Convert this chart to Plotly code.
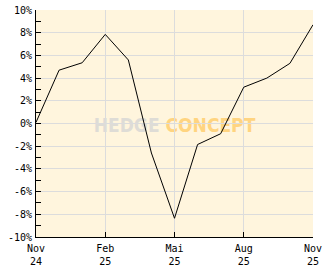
import plotly.graph_objects as go

months = ["Nov 24", "Dec 24", "Jan 25", "Feb 25", "Mar 25", "Apr 25", "Mai 25",
          "Jun 25", "Jul 25", "Aug 25", "Sep 25", "Oct 25", "Nov 25"]
values = [0.1, 4.7, 5.35, 7.85, 5.6, -2.6, -8.35, -1.85, -0.9, 3.2, 4.0, 5.3, 8.7]

x_tickvals = [0, 3, 6, 9, 12]
x_ticktext = ["Nov<br>24", "Feb<br>25", "Mai<br>25", "Aug<br>25", "Nov<br>25"]
y_tickvals = [-10, -8, -6, -4, -2, 0, 2, 4, 6, 8, 10]
y_ticktext = ["-10%", "-8%", "-6%", "-4%", "-2%", "0%", "2%", "4%", "6%", "8%", "10%"]

xs = list(range(len(months)))

fig = go.Figure()
fig.add_trace(go.Scatter(x=xs, y=values, mode="lines",
                         line=dict(color="black", width=1),
                         hoverinfo="skip", showlegend=False))

tick_font = dict(family="DejaVu Sans Mono, monospace", size=10, color="black")

fig.update_layout(
    width=332, height=269,
    margin=dict(l=36, r=19, t=10, b=32, autoexpand=False),
    paper_bgcolor="white",
    plot_bgcolor="#FFF5DD",
    showlegend=False,
    xaxis=dict(range=[0, 12], tickmode="array", tickvals=x_tickvals, ticktext=x_ticktext,
               ticks="inside", ticklen=5, tickcolor="black", tickwidth=1,
               showline=True, linecolor="black", linewidth=1,
               showgrid=True, gridcolor="#DCDCDC", gridwidth=1, zeroline=False,
               tickfont=tick_font, ticklabelstandoff=2, automargin=False, fixedrange=True),
    yaxis=dict(range=[-10, 10], tickmode="array", tickvals=y_tickvals, ticktext=y_ticktext,
               ticks="inside", ticklen=5, tickcolor="black", tickwidth=1,
               minor=dict(tickmode="linear", tick0=0, dtick=1, ticks="inside", ticklen=5,
                          tickcolor="black", showgrid=False),
               showline=True, linecolor="black", linewidth=1,
               showgrid=True, gridcolor="#DCDCDC", gridwidth=1, zeroline=False,
               tickfont=tick_font, ticklabelstandoff=1, automargin=False, fixedrange=True),
    shapes=[dict(type="rect", xref="paper", yref="paper", x0=0.1, x1=0.9, y0=0.42, y1=0.58,
                 line=dict(width=0), fillcolor="rgba(0,0,0,0)", layer="between",
                 label=dict(text="<span style='color:#DEDCD6'>HEDGE</span> <span style='color:#FFD480'>CONCEPT</span>",
                            font=dict(family="Liberation Sans Narrow, DejaVu Sans Condensed, sans-serif",
                                      size=19, color="#FFD480", weight="bold"),
                            textposition="middle center"))],
)

fig.write_html("out.html")
